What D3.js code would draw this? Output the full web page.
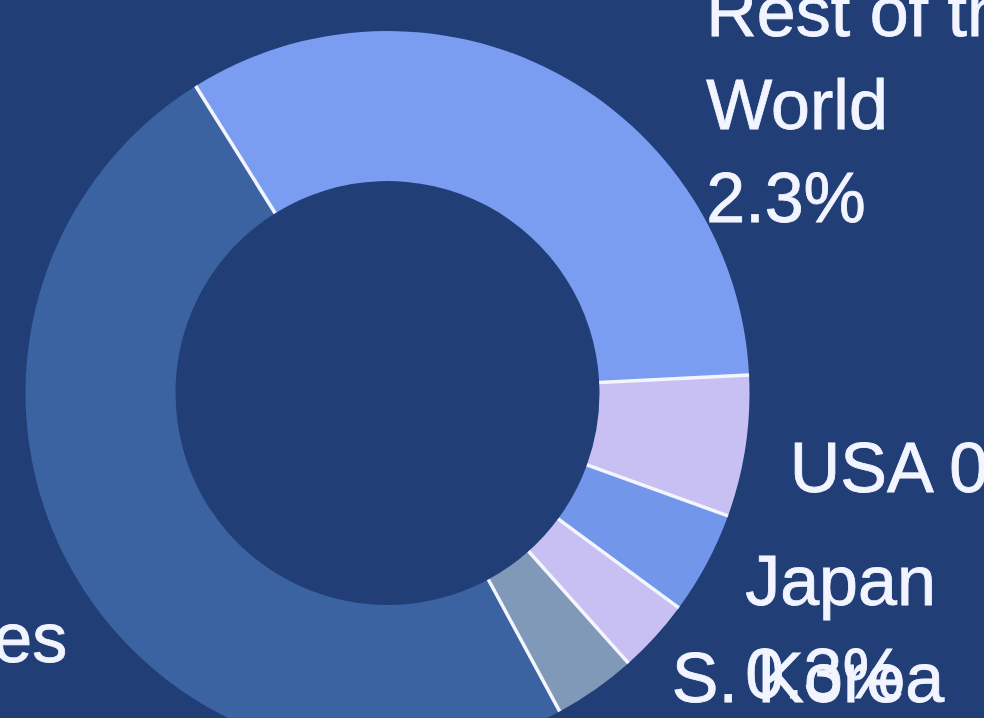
<!DOCTYPE html>
<html>
<head>
  <title>Share by Country</title>
  <script src="https://d3js.org/d3.v7.min.js"></script>
  <style>
    html, body { margin: 0; padding: 0; background: #213e76; overflow: hidden; }
    .slice { stroke: none; }
    .sep { stroke: #f4f6ff; stroke-width: 3.5px; }
    .label { fill: #f2f5ff; stroke: #f2f5ff; stroke-width: 0.8px; font-family: "Liberation Sans", Arial, sans-serif; font-size: 70px; }
  </style>
</head>
<body>
  <div id="chart"></div>
  <script>
    // slices, clockwise from the top-left edge of the big light slice
    const countries = ["Rest of the World", "USA", "Japan", "S. Korea", "Taiwan", "Other Countries"];
    const shares = [33.1, 6.3, 4.6, 3.3, 3.7, 49.0];
    const shownPct = ["2.3%", "0.6%", "0.3%", "1.1%", "0.8%", "49.0%"];

    const palette = ["#7b9df1", "#c8c0f3", "#7196ea", "#c8c0f3", "#8199b9", "#3b62a1"];
    // where each label sits (degrees from 12 o'clock, distance from centre)
    const labelSpots = [
      {angle: 39.9, r: 497},
      {angle: 100.5, r: 409},
      {angle: 117.7, r: 404},
      {angle: 135, r: 402},
      {angle: 146, r: 445},
      {angle: 256.3, r: 638}
    ];

    const width = 984, height = 718;
    const cx = 387.5, cy = 393;
    const outerR = 362, innerR = 212;
    const startDeg = -32;
    const lineHeight = 93;
    const wrapWidth = 345;

    const svg = d3.select("#chart")
      .append("svg")
        .attr("width", width)
        .attr("height", height);

    svg.append("rect")
      .attr("width", width)
      .attr("height", height)
      .attr("fill", "#213e76");

    const g = svg.append("g")
      .attr("transform", `translate(${cx},${cy})`);

    const rad = d => d * Math.PI / 180;

    const pie = d3.pie()
      .sort(null)
      .value(d => d.share)
      .startAngle(rad(startDeg))
      .endAngle(rad(startDeg) + 2 * Math.PI);

    const arc = d3.arc()
      .innerRadius(innerR)
      .outerRadius(outerR);

    const data = countries.map((c, i) => ({
      country: c,
      share: shares[i],
      pct: shownPct[i],
      color: palette[i],
      spot: labelSpots[i]
    }));

    const arcs = pie(data);

    g.selectAll(".slice")
      .data(arcs)
      .join("path")
        .attr("class", "slice")
        .attr("fill", d => d.data.color)
        .attr("d", arc);

    // white radial separators only (no outline on the ring edges)
    g.selectAll(".sep")
      .data(arcs)
      .join("line")
        .attr("class", "sep")
        .attr("x1", d => d3.pointRadial(d.startAngle, innerR)[0])
        .attr("y1", d => d3.pointRadial(d.startAngle, innerR)[1])
        .attr("x2", d => d3.pointRadial(d.startAngle, outerR)[0])
        .attr("y2", d => d3.pointRadial(d.startAngle, outerR)[1]);

    // labels: name + percentage, wrapped to a fixed width
    g.selectAll(".label")
      .data(arcs)
      .join("text")
        .attr("class", "label")
        .attr("text-anchor", "start")
        .each(function(d) {
          const [x, y] = d3.pointRadial(rad(d.data.spot.angle), d.data.spot.r);
          const text = d3.select(this);
          const words = (d.data.country + " " + d.data.pct).split(" ");
          let line = [];
          let lineNo = 0;
          let tspan = text.append("tspan").attr("x", x).attr("y", y).attr("dy", "0.35em");
          words.forEach(w => {
            line.push(w);
            tspan.text(line.join(" "));
            if (tspan.node().getComputedTextLength() > wrapWidth && line.length > 1) {
              line.pop();
              tspan.text(line.join(" "));
              line = [w];
              lineNo++;
              tspan = text.append("tspan")
                .attr("x", x)
                .attr("y", y + lineNo * lineHeight)
                .attr("dy", "0.35em")
                .text(w);
            }
          });
        });
  </script>
</body>
</html>
